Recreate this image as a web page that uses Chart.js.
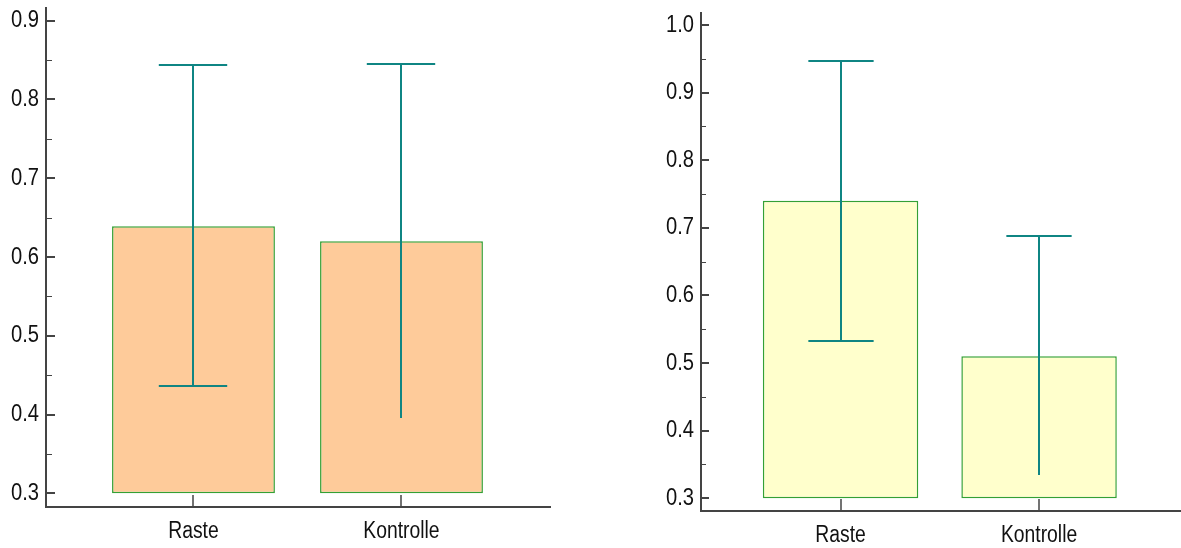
<!DOCTYPE html>
<html><head><meta charset="utf-8">
<script src="https://cdn.jsdelivr.net/npm/chart.js@4/dist/chart.umd.min.js"></script>
<style>
html,body{margin:0;padding:0;background:#fff;width:1181px;height:548px;overflow:hidden}
canvas{position:absolute;top:0}
#c1{left:0px} #c2{left:601px}
</style></head><body>
<canvas id="c1" width="560" height="548" style="width:560px;height:548px"></canvas>
<canvas id="c2" width="580" height="548" style="width:580px;height:548px"></canvas>
<script>
// ---- data ----
const categories = ['Raste', 'Kontrolle'];
const barBase = 0.3;
const leftMeans  = [0.639, 0.620];
const leftUpper  = [0.844, 0.845];
const leftLower  = [0.436, 0.396];
const rightMeans = [0.740, 0.510];
const rightUpper = [0.947, 0.688];
const rightLower = [0.533, 0.334];
const lowerCaps  = [true, false];
const leftYTicks  = ['0.3','0.4','0.5','0.6','0.7','0.8','0.9'];
const rightYTicks = ['0.3','0.4','0.5','0.6','0.7','0.8','0.9','1.0'];

const FONT = "'Liberation Sans', Arial, sans-serif";
const NARROW = 0.84;
const AXIS = '#444444';
const ERR = '#0f8583';

const narrowText = {
  id: 'narrowText',
  beforeDraw(chart) {
    Object.values(chart.scales).forEach(s => {
      if (s._narrowWrapped) return;
      const orig = s.drawLabels;
      s.drawLabels = function (area) {
        const ctx = this.ctx;
        const of = CanvasRenderingContext2D.prototype.fillText;
        ctx.fillText = function (t, x, y) {
          this.save(); this.translate(x, y); this.scale(NARROW, 1);
          of.call(this, t, 0, 0); this.restore();
        };
        try { orig.call(this, area); } finally { delete ctx.fillText; }
      };
      s._narrowWrapped = true;
    });
  }
};

const innerTicks = {
  id: 'innerTicks',
  afterDraw(chart, args, opts) {
    const {ctx, chartArea: a, scales: {x, y}} = chart;
    const vals = opts.yTicks.map(Number);
    ctx.save();
    ctx.strokeStyle = AXIS;
    ctx.lineCap = 'butt';
    ctx.lineWidth = 2;
    vals.forEach(v => {
      const py = Math.round(y.getPixelForValue(v));
      ctx.beginPath(); ctx.moveTo(a.left, py); ctx.lineTo(a.left + opts.major, py); ctx.stroke();
    });
    ctx.lineWidth = 1;
    for (let i = 0; i < vals.length - 1; i++) {
      const py = Math.round(y.getPixelForValue((vals[i] + vals[i + 1]) / 2)) + 0.5;
      ctx.beginPath(); ctx.moveTo(a.left, py); ctx.lineTo(a.left + opts.minor, py); ctx.stroke();
    }
    ctx.lineWidth = 1.5;
    categories.forEach((c, i) => {
      const px = Math.round(x.getPixelForValue(i + 1));
      ctx.beginPath(); ctx.moveTo(px, a.bottom); ctx.lineTo(px, a.bottom - 12); ctx.stroke();
    });
    ctx.restore();
  }
};

const errorBars = {
  id: 'errorBars',
  afterDatasetsDraw(chart, args, opts) {
    const {ctx, scales: {x, y}} = chart;
    const meta = chart.getDatasetMeta(0);
    ctx.save();
    ctx.strokeStyle = ERR;
    ctx.lineWidth = 2;
    opts.upper.forEach((u, i) => {
      const px = Math.round(x.getPixelForValue(i + 1));
      const half = meta.data[i].width * 0.21;
      const pu = Math.round(y.getPixelForValue(u));
      const pl = Math.round(y.getPixelForValue(opts.lower[i]));
      ctx.beginPath(); ctx.moveTo(px, pu); ctx.lineTo(px, pl); ctx.stroke();
      ctx.beginPath(); ctx.moveTo(px - half, pu); ctx.lineTo(px + half, pu); ctx.stroke();
      if (lowerCaps[i]) {
        ctx.beginPath(); ctx.moveTo(px - half, pl); ctx.lineTo(px + half, pl); ctx.stroke();
      }
    });
    ctx.restore();
  }
};

function makeChart(id, cfg) {
  const yVals = cfg.yTicks.map(Number);
  return new Chart(document.getElementById(id), {
    type: 'bar',
    data: {
      datasets: [{
        data: cfg.means.map((m, i) => ({x: i + 1, y: [barBase, m]})),
        backgroundColor: cfg.fill,
        borderColor: '#34a034',
        borderWidth: 1.5,
        borderSkipped: false,
        categoryPercentage: 1,
        barPercentage: 0.783
      }]
    },
    options: {
      responsive: false,
      animation: false,
      layout: {padding: cfg.padding},
      plugins: {
        legend: {display: false},
        tooltip: {enabled: false},
        innerTicks: {yTicks: cfg.yTicks, major: cfg.major, minor: cfg.minor},
        errorBars: {upper: cfg.upper, lower: cfg.lower}
      },
      scales: {
        x: {
          type: 'linear',
          offset: false,
          bounds: 'data',
          min: cfg.xMin, max: cfg.xMax,
          grid: {display: false, drawTicks: false, offset: false},
          border: {display: true, color: AXIS, width: 2},
          afterBuildTicks: s => { s.ticks = categories.map((c, i) => ({value: i + 1})); },
          afterFit: s => { s.height = cfg.xHeight; s.paddingLeft = 0; s.paddingRight = 0; },
          ticks: {
            autoSkip: false, maxRotation: 0,
            padding: cfg.xPad,
            color: '#111',
            font: {family: FONT, size: 23},
            callback: v => categories[Math.round(v) - 1] || ''
          }
        },
        y: {
          type: 'linear',
          bounds: 'data',
          min: cfg.yMin, max: cfg.yMax,
          grid: {display: false, drawTicks: false},
          border: {display: true, color: AXIS, width: 2},
          afterBuildTicks: s => { s.ticks = yVals.map(v => ({value: v})); },
          afterFit: s => { s.width = cfg.yWidth; s.paddingTop = 0; s.paddingBottom = 0; },
          ticks: {
            padding: 7,
            color: '#111',
            font: {family: FONT, size: 24},
            callback: (v, i) => cfg.yTicks[i]
          }
        }
      }
    },
    plugins: [narrowText, innerTicks, errorBars]
  });
}

makeChart('c1', {
  means: leftMeans, upper: leftUpper, lower: leftLower, yTicks: leftYTicks,
  fill: '#fecb9a', yMin: 0.2826, yMax: 0.9161, xMin: 0.291, xMax: 2.714,
  padding: {top: 8, right: 10, left: 0, bottom: 0}, yWidth: 46, xHeight: 41, xPad: 11,
  major: 9, minor: 6
});
makeChart('c2', {
  means: rightMeans, upper: rightUpper, lower: rightLower, yTicks: rightYTicks,
  fill: '#ffffcc', yMin: 0.2812, yMax: 1.0178, xMin: 0.297, xMax: 2.715,
  padding: {top: 13, right: 0, left: 0, bottom: 0}, yWidth: 100, xHeight: 37, xPad: 11,
  major: 8, minor: 5
});
</script>
</body></html>
